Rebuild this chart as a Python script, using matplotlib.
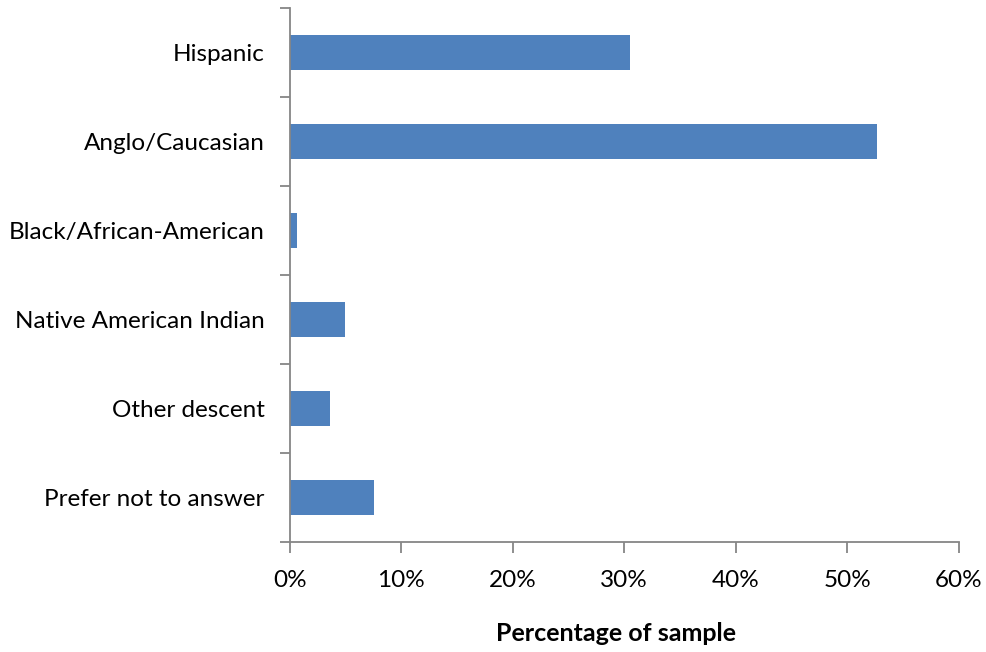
import numpy as np
import matplotlib.pyplot as plt
from matplotlib.ticker import PercentFormatter

# Survey sample by ethnicity
categories = ["Hispanic", "Anglo/Caucasian", "Black/African-American",
              "Native American Indian", "Other descent", "Prefer not to answer"]
percentages = [30.5, 52.7, 0.7, 5.0, 3.6, 7.6]
xticks = [0, 10, 20, 30, 40, 50, 60]

plt.rcParams['font.family'] = ['Lato', 'DejaVu Sans']

fig = plt.figure(figsize=(9.87, 6.52), dpi=100)
ax = fig.add_axes([0.2935, 0.1687, 0.678, 0.819])

y = np.arange(len(categories))
ax.barh(y, percentages, height=0.4, color="#4F81BD")

ax.set_ylim(len(categories) - 0.5, -0.5)
ax.set_xlim(0, 60)

# category labels at the centers, tick marks at the boundaries
ax.set_yticks(y)
ax.set_yticklabels(categories, fontsize=17.5)
ax.tick_params(axis="y", which="major", length=0, pad=18)
ax.set_yticks(np.arange(-0.5, len(categories)), minor=True)
ax.tick_params(axis="y", which="minor", length=7, width=1.3, color="#868686")

ax.set_xticks(xticks)
ax.xaxis.set_major_formatter(PercentFormatter(decimals=0))
ax.tick_params(axis="x", length=8, width=1.3, color="#868686", labelsize=17.5, pad=12)

ax.set_xlabel("Percentage of sample", fontsize=18, fontweight="bold")
ax.xaxis.set_label_coords(0.488, -0.15)

for side in ["top", "right"]:
    ax.spines[side].set_visible(False)
for side in ["left", "bottom"]:
    ax.spines[side].set_color("#868686")
    ax.spines[side].set_linewidth(1.3)

fig.savefig("out.png", dpi=100)
